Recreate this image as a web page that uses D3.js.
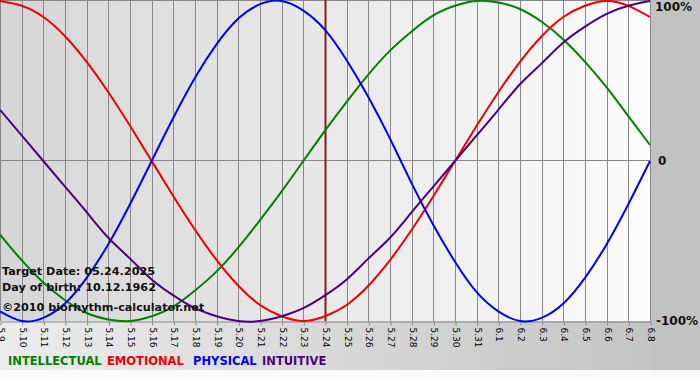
<!DOCTYPE html>
<html>
<head>
  <meta charset="utf-8">
  <title>Biorhythm</title>
  <script src="https://d3js.org/d3.v7.min.js"></script>
  <style>
    body { margin: 0; background: #fafafa; }
    svg text { font-family: "DejaVu Sans", Verdana, sans-serif; }
  </style>
</head>
<body>
  <div id="chart"></div>

  <script>
    // days shown on the x axis
    var days = ["5.9", "5.10", "5.11", "5.12", "5.13", "5.14", "5.15", "5.16", "5.17", "5.18",
                "5.19", "5.20", "5.21", "5.22", "5.23", "5.24", "5.25", "5.26", "5.27", "5.28",
                "5.29", "5.30", "5.31", "6.1", "6.2", "6.3", "6.4", "6.5", "6.6", "6.7", "6.8"];

    // values, -1 .. 1
    var intellectual = [-0.46, -0.62, -0.76, -0.87, -0.95, -0.99, -1.00, -0.97, -0.91, -0.81,
                        -0.69, -0.54, -0.37, -0.19, 0.00, 0.19, 0.37, 0.54, 0.69, 0.81,
                        0.91, 0.97, 1.00, 0.99, 0.95, 0.87, 0.76, 0.62, 0.46, 0.28, 0.10];
    var emotional = [1.00, 0.97, 0.90, 0.78, 0.62, 0.43, 0.22, 0.00, -0.22, -0.43,
                     -0.62, -0.78, -0.90, -0.97, -1.00, -0.97, -0.90, -0.78, -0.62, -0.43,
                     -0.22, 0.00, 0.22, 0.43, 0.62, 0.78, 0.90, 0.97, 1.00, 0.97, 0.90];
    var physical = [-0.94, -1.00, -0.98, -0.89, -0.73, -0.52, -0.27, 0.00, 0.27, 0.52,
                    0.73, 0.89, 0.98, 1.00, 0.94, 0.82, 0.63, 0.40, 0.14, -0.14,
                    -0.40, -0.63, -0.82, -0.94, -1.00, -0.98, -0.89, -0.73, -0.52, -0.27, 0.00];
    var intuitive = [0.32, 0.16, 0.00, -0.16, -0.32, -0.48, -0.61, -0.74, -0.84, -0.92,
                     -0.97, -1.00, -1.00, -0.97, -0.92, -0.84, -0.74, -0.61, -0.48, -0.32,
                     -0.16, 0.00, 0.16, 0.32, 0.48, 0.61, 0.74, 0.84, 0.92, 0.97, 1.00];

    var seriesNames = ["INTELLECTUAL", "EMOTIONAL", "PHYSICAL", "INTUITIVE"];
    var seriesColors = ["#008000", "#f00000", "#0000ee", "#4b0082"];
    var yLabels = ["100%", "0", "-100%"];
    var targetDay = "5.24";
    var infoLines = ["Target Date: 05.24.2025", "Day of birth: 10.12.1962", "\u00a92010 biorhythm-calculator.net"];

    var series = [intellectual, emotional, physical, intuitive];

    var W = 700, H = 380;
    var plotW = 651, plotH = 321;

    var svg = d3.select("#chart").append("svg")
                .attr("width", W)
                .attr("height", H);

    var defs = svg.append("defs");
    var gPlot = defs.append("linearGradient").attr("id", "gPlot");
    gPlot.append("stop").attr("offset", "0%").attr("stop-color", "#d6d6d6");
    gPlot.append("stop").attr("offset", "100%").attr("stop-color", "#fcfcfc");
    var gBottom = defs.append("linearGradient").attr("id", "gBottom");
    gBottom.append("stop").attr("offset", "0%").attr("stop-color", "#ececec");
    gBottom.append("stop").attr("offset", "100%").attr("stop-color", "#c2c2c2");

    // backgrounds
    svg.append("rect").attr("width", W).attr("height", 370).attr("fill", "url(#gBottom)");
    svg.append("rect").attr("x", plotW).attr("width", W - plotW).attr("height", 370).attr("fill", "#c2c2c2");
    svg.append("rect").attr("width", plotW).attr("height", plotH).attr("fill", "url(#gPlot)");

    var x = d3.scalePoint().domain(days).range([0, 650]);
    var y = d3.scaleLinear().domain([-1, 1]).range([321, 1]);

    // vertical grid
    svg.append("g").selectAll("line")
       .data(days)
       .enter().append("line")
       .attr("x1", d => Math.round(x(d)) + 0.5)
       .attr("x2", d => Math.round(x(d)) + 0.5)
       .attr("y1", 0)
       .attr("y2", plotH)
       .attr("stroke", "#888");

    // horizontal lines
    svg.append("g").selectAll("line")
       .data([1, 0])
       .enter().append("line")
       .attr("x1", 0)
       .attr("x2", plotW)
       .attr("y1", d => Math.round(y(d)) - 0.5)
       .attr("y2", d => Math.round(y(d)) - 0.5)
       .attr("stroke", "#888");

    // x axis
    var axis = svg.append("g")
                  .attr("transform", "translate(0.5," + (plotH + 0.5) + ")")
                  .call(d3.axisBottom(x).tickSize(4).tickSizeOuter(0));
    axis.select(".domain").attr("stroke", "#888");
    axis.selectAll(".tick line").attr("stroke", "#888");
    axis.selectAll("text")
        .attr("transform", "rotate(90)")
        .attr("x", 6)
        .attr("y", 0)
        .attr("dy", "0.35em")
        .attr("text-anchor", "start")
        .attr("font-size", "9px")
        .attr("fill", "#000");

    // target day marker
    svg.append("line")
       .attr("x1", x(targetDay) + 0.5)
       .attr("x2", x(targetDay) + 0.5)
       .attr("y1", 0)
       .attr("y2", plotH)
       .attr("stroke", "#8b1a1a")
       .attr("stroke-width", 2);

    // curves
    var line = d3.line()
                 .x((d, i) => x(days[i]))
                 .y(d => y(d))
                 .curve(d3.curveNatural);

    svg.append("g").selectAll("path")
       .data(series)
       .enter().append("path")
       .attr("d", d => line(d))
       .attr("fill", "none")
       .attr("stroke", (d, i) => seriesColors[i])
       .attr("stroke-width", 2);

    // info text
    svg.append("g").selectAll("text")
       .data(infoLines)
       .enter().append("text")
       .attr("x", 2)
       .attr("y", (d, i) => [275, 291, 311][i])
       .attr("font-size", "11.2px")
       .attr("font-weight", "bold")
       .attr("fill", "#111")
       .text(d => d);

    // y labels at right
    svg.append("g").selectAll("text")
       .data(yLabels)
       .enter().append("text")
       .attr("x", (d, i) => [655, 658, 656][i])
       .attr("y", (d, i) => y([1, 0, -1][i]))
       .attr("dy", (d, i) => i === 0 ? "0.8em" : "0.35em")
       .attr("font-size", "12px")
       .attr("font-weight", "bold")
       .attr("fill", "#111")
       .text(d => d);

    // legend
    var legendX = [8, 107, 193, 262];
    svg.append("g").selectAll("text")
       .data(seriesNames)
       .enter().append("text")
       .attr("x", (d, i) => legendX[i])
       .attr("y", 365)
       .attr("font-size", "11.5px")
       .attr("font-weight", "bold")
       .attr("fill", (d, i) => seriesColors[i])
       .text(d => d);
  </script>
</body>
</html>
